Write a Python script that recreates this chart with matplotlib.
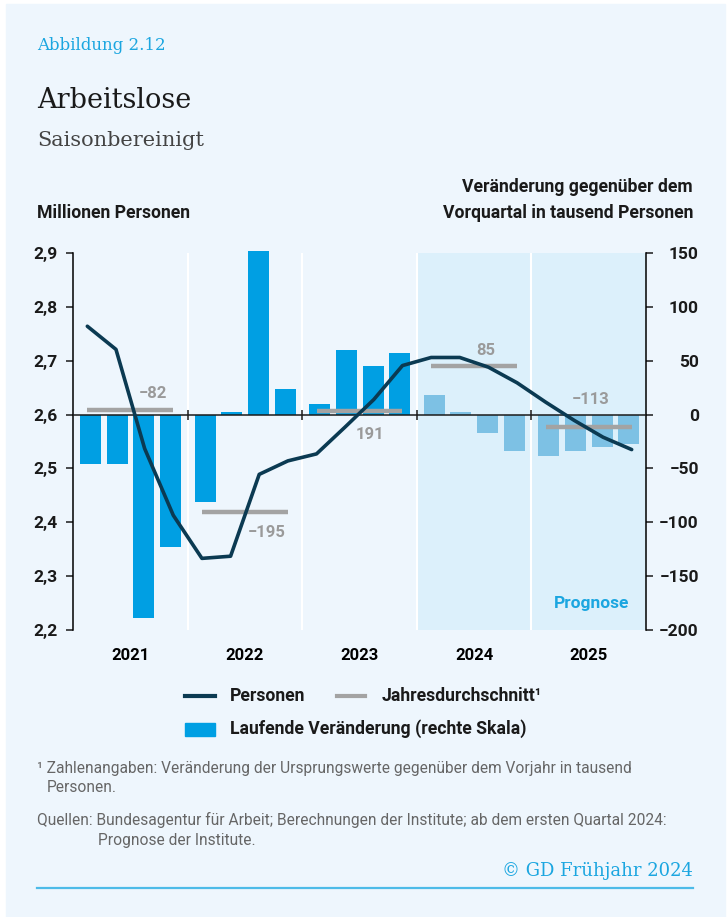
import matplotlib
matplotlib.use("Agg")
import matplotlib.pyplot as plt
import numpy as np
from matplotlib import font_manager
from matplotlib.lines import Line2D
from matplotlib.patches import Rectangle

# Arbeitslose, saisonbereinigt (Millionen Personen), Quartale 2021-2025
years = ["2021", "2022", "2023", "2024", "2025"]
personen = [2.764, 2.721, 2.537, 2.413,
            2.333, 2.337, 2.489, 2.514,
            2.527, 2.577, 2.628, 2.691,
            2.706, 2.706, 2.688, 2.659,
            2.623, 2.589, 2.558, 2.535]
# Veränderung gegenüber Vorquartal in tausend Personen
veraenderung = [-46, -46, -189, -123,
                -81, 2, 152, 24,
                10, 60, 45, 57,
                18, 2, -17, -34,
                -38, -34, -30, -27]
# Veränderung der Jahresdurchschnitte gegenüber Vorjahr (tausend)
jahres_labels = ["\u221282", "\u2212195", "191", "85", "\u2212113"]
prognose_ab = 12  # erstes Quartal 2024

W, H = 727, 917


def pick(cands):
    names = {f.name for f in font_manager.fontManager.ttflist}
    for c in cands:
        if c in names:
            return c
    return "DejaVu Sans"


SANS = pick(["Liberation Sans Narrow", "Roboto", "Open Sans"])
SERIF = pick(["DejaVu Serif", "Liberation Serif"])
plt.rcParams["font.family"] = [SANS, "DejaVu Sans"]

BG = "#eef6fd"
SHADE = "#dcf0fb"
BLUE = "#009fe3"
BLUE_LIGHT = "#7dc1e4"
NAVY = "#0b3a52"
GREY = "#a3a3a3"
CYAN = "#1ba6e0"
TXT = "#1a1a1a"


def px(x, y):
    return x / W, 1 - y / H


fig = plt.figure(figsize=(W / 100, H / 100), dpi=100)
fig.patch.set_facecolor("white")
fig.add_artist(Rectangle(px(6, 917), (725 - 6) / W, (917 - 4) / H,
                         transform=fig.transFigure, color=BG, zorder=-10))

left, right, top, bottom = 73, 646, 253, 630
ax = fig.add_axes([left / W, 1 - bottom / H, (right - left) / W, (bottom - top) / H])
ax2 = ax.twinx()
ax.set_zorder(ax2.get_zorder() + 1)
ax.patch.set_visible(False)
ax2.patch.set_visible(False)

n = len(personen)
xq = np.arange(n) + 0.5

# Balken: rechte Skala, je Jahr als Gruppe mit Abstand zur Jahresgrenze
yr_idx = np.arange(n) // 4
qi = np.arange(n) % 4
xb = yr_idx * 4 + 0.61 + qi * 0.932
colors = [BLUE if i < prognose_ab else BLUE_LIGHT for i in range(n)]
ax2.bar(xb, veraenderung, width=0.733, color=colors, zorder=2, clip_on=False)
ax2.axvspan(prognose_ab, n, color=SHADE, zorder=0, lw=0)
for b in [4, 8, 12, 16]:
    ax2.axvline(b, color="white", lw=1.5, zorder=1)
ax2.set_ylim(-200, 150)
ax2.set_yticks(range(-200, 151, 50))
ax2.set_yticklabels([str(v).replace("-", "\u2212") for v in range(-200, 151, 50)])

# Personen und Jahresdurchschnitte: linke Skala
ax.set_xlim(0, n)
ax.set_ylim(2.2, 2.9)
ax.axhline(2.6, color=TXT, lw=1.1, zorder=3)
ax.plot([4, 8, 12, 16], [2.6] * 4, ls="none", marker="|", ms=7, mew=1.1,
        color=TXT, zorder=3)

label_dx = [2.78, 2.77, 2.37, 2.4, 2.08]
label_dy = [16, -20, -23, 16, 28]
for k in range(len(years)):
    avg = np.mean(personen[4 * k:4 * k + 4])
    ax.plot([xq[4 * k], xq[4 * k + 3]], [avg, avg], color=GREY, lw=3.2,
            solid_capstyle="butt", zorder=4)
    ax.annotate(jahres_labels[k], (4 * k + label_dx[k], avg),
                xytext=(0, label_dy[k] * 0.72), textcoords="offset points",
                ha="center", va="center", color="#9a9a9a", fontsize=12,
                fontweight="bold", zorder=6)

ax.plot(xq, personen, color=NAVY, lw=2.6, zorder=5, solid_joinstyle="round",
        solid_capstyle="round")

ax.set_yticks(np.round(np.arange(2.2, 2.91, 0.1), 1))
ax.set_yticklabels([f"{v:.1f}".replace(".", ",") for v in np.arange(2.2, 2.91, 0.1)])
ax.set_xticks([2, 6, 10, 14, 18])
ax.set_xticklabels(years)
ax.tick_params(axis="x", length=0, pad=13, labelsize=12)
for lab in ax.get_xticklabels():
    lab.set_fontweight("bold")

for a in (ax, ax2):
    for s in ["top", "bottom"]:
        a.spines[s].set_visible(False)
ax.spines["right"].set_visible(False)
ax2.spines["left"].set_visible(False)
ax.spines["left"].set_linewidth(1.1)
ax2.spines["right"].set_linewidth(1.1)
ax.tick_params(axis="y", length=5, width=1.1, pad=6, labelsize=12.5, colors=TXT)
ax2.tick_params(axis="y", length=5, width=1.1, pad=33, labelsize=12.5, colors=TXT)
for lab in ax.get_yticklabels():
    lab.set_fontweight("bold")
for lab in ax2.get_yticklabels():
    lab.set_fontweight("bold")
    lab.set_horizontalalignment("right")

ax2.text(18.1, -175, "Prognose", color=CYAN, fontsize=12.5, fontweight="bold",
         ha="center", va="center")

# Kopf
fig.text(*px(37, 46), "Abbildung 2.12", family=SERIF, color=CYAN, fontsize=12,
         va="center", fontweight="light")
fig.text(*px(37, 101), "Arbeitslose", family=SERIF, color=TXT, fontsize=19.5,
         va="center")
fig.text(*px(37, 141), "Saisonbereinigt", family=SERIF, color="#444444",
         fontsize=15, va="center", fontweight="light")
fig.text(*px(37, 213), "Millionen Personen", color=TXT, fontsize=12.7,
         fontweight="bold", va="center")
fig.text(*px(693, 187), "Veränderung gegenüber dem", color=TXT, fontsize=12.7,
         fontweight="bold", va="center", ha="right")
fig.text(*px(693, 213), "Vorquartal in tausend Personen", color=TXT, fontsize=12.7,
         fontweight="bold", va="center", ha="right")

# Legende
fig.add_artist(Line2D([185 / W, 215 / W], [px(0, 696)[1]] * 2, color=NAVY, lw=3,
                      transform=fig.transFigure))
fig.text(*px(230, 696), "Personen", color=TXT, fontsize=12.7, fontweight="bold",
         va="center")
fig.add_artist(Line2D([337 / W, 365 / W], [px(0, 696)[1]] * 2, color=GREY, lw=3,
                      transform=fig.transFigure))
fig.text(*px(382, 696), "Jahresdurchschnitt\u00b9", color=TXT, fontsize=12.7,
         fontweight="bold", va="center")
fig.add_artist(Rectangle(px(185, 736), 30 / W, 13 / H, color=BLUE,
                         transform=fig.transFigure))
fig.text(*px(230, 729), "Laufende Veränderung (rechte Skala)", color=TXT,
         fontsize=12.7, fontweight="bold", va="center")

# Fußnoten
foot = dict(color="#666666", fontsize=11.2, va="center")
fig.text(*px(37, 768), "\u00b9 Zahlenangaben: Veränderung der Ursprungswerte gegenüber dem Vorjahr in tausend", **foot)
fig.text(*px(47, 788), "Personen.", **foot)
fig.text(*px(37, 820), "Quellen: Bundesagentur für Arbeit; Berechnungen der Institute; ab dem ersten Quartal 2024:", **foot)
fig.text(*px(98, 840), "Prognose der Institute.", **foot)
fig.text(*px(693, 871), "\u00a9 GD Frühjahr 2024", family=SERIF, color=CYAN,
         fontsize=13, va="center", ha="right", fontweight="light")
fig.add_artist(Line2D([37 / W, 693 / W], [px(0, 888)[1]] * 2, color="#4dbbe8",
                      lw=1.6, transform=fig.transFigure))

fig.savefig("out.png", dpi=100, facecolor=fig.get_facecolor())
